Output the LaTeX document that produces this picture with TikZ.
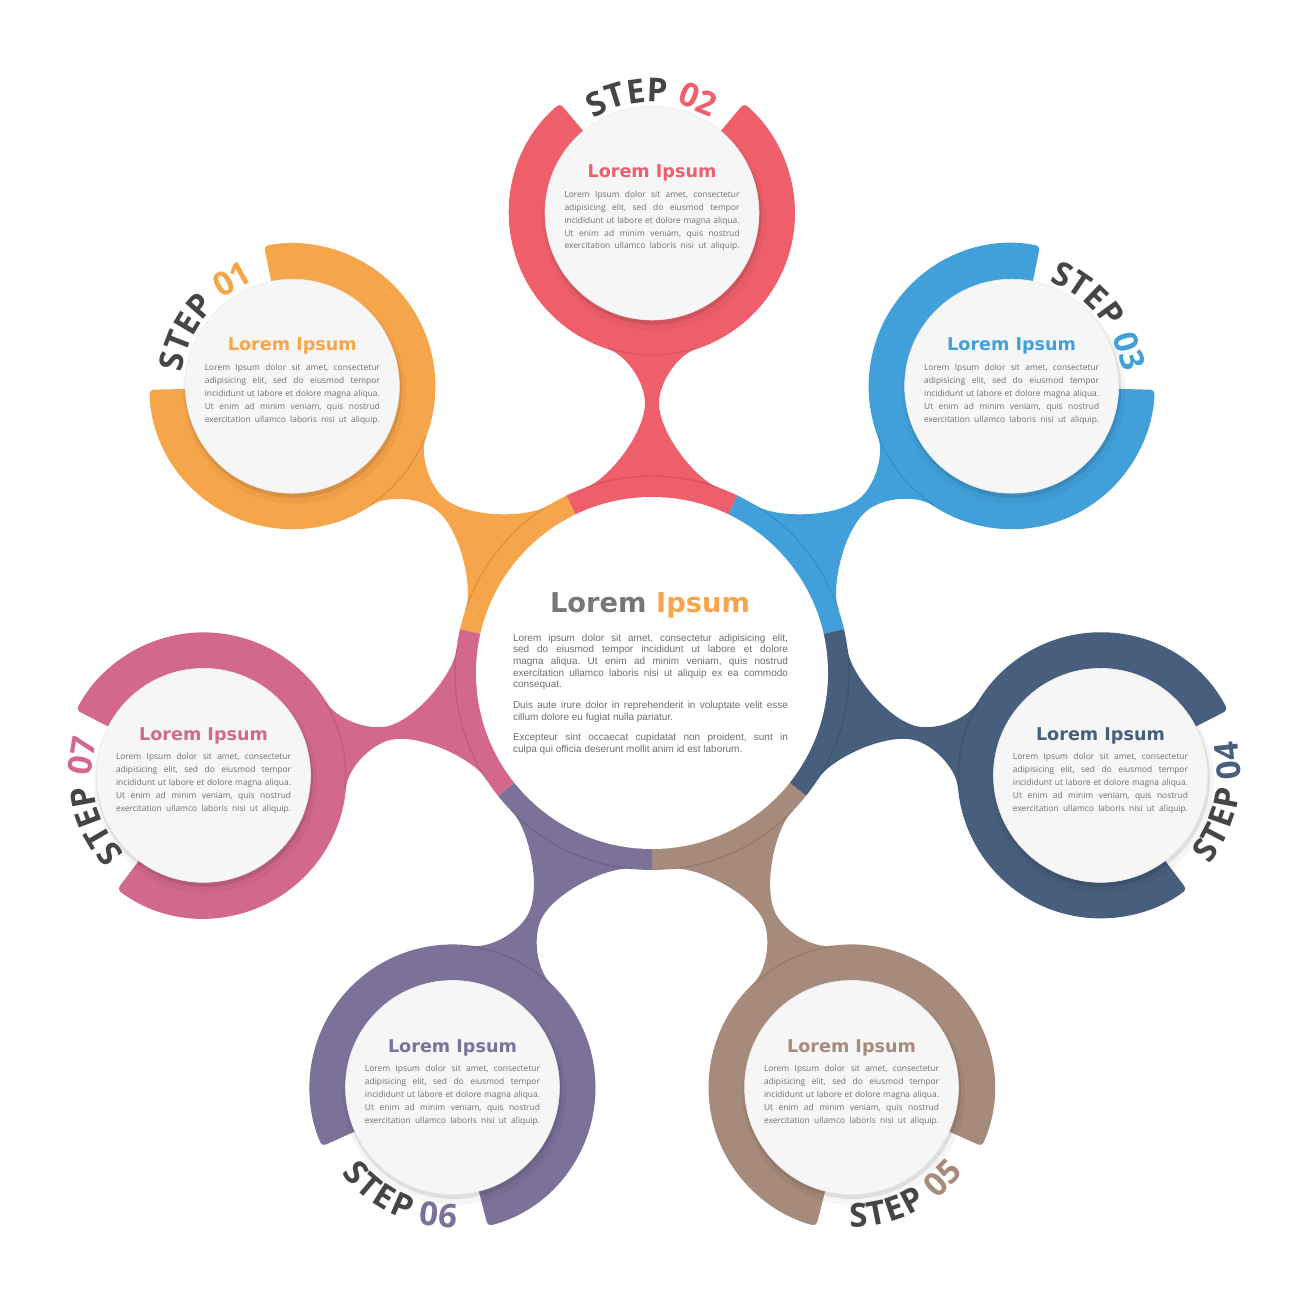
\documentclass[tikz,border=0pt]{standalone}
\usepackage{fontspec}
\usetikzlibrary{calc,decorations.text}
\newfontfamily\osans{Open Sans}
\newfontfamily\dvs{DejaVu Sans}
\newfontfamily\lsans{Liberation Sans}
\definecolor{sorange}{HTML}{F7A54A}
\definecolor{sred}{HTML}{EF5F6B}
\definecolor{sblue}{HTML}{41A0DA}
\definecolor{sdark}{HTML}{475E7C}
\definecolor{sbrown}{HTML}{A68A7B}
\definecolor{spurple}{HTML}{7B7199}
\definecolor{spink}{HTML}{D2698B}
\definecolor{stepgray}{HTML}{454545}
\definecolor{bodygray}{HTML}{6E6E6E}
\definecolor{titlegray}{HTML}{777777}
\definecolor{satwhite}{HTML}{F6F6F6}
\frenchspacing
\newcommand\stepfont{\osans\bfseries\fontsize{33}{35}\selectfont}
\newcommand\satbody{\parbox[t]{175pt}{\osans\fontsize{8.4}{12.85}\selectfont\frenchspacing
\makebox[\linewidth][s]{Lorem Ipsum dolor sit amet, consectetur}\\
\makebox[\linewidth][s]{adipisicing elit, sed do eiusmod tempor}\\
\makebox[\linewidth][s]{incididunt ut labore et dolore magna aliqua.}\\
\makebox[\linewidth][s]{Ut enim ad minim veniam, quis nostrud}\\
\makebox[\linewidth][s]{exercitation ullamco laboris nisi ut aliquip.}}}
\tikzset{
  sattitle/.style={font=\dvs\bfseries\fontsize{17.6}{20}\selectfont, inner sep=0, anchor=base},
  satbodynode/.style={inner sep=0, anchor=base, text=bodygray},
  edgeshade/.style={black, opacity=0.10, line width=1.4},
}
\begin{document}
\begin{tikzpicture}[x=1pt,y=1pt]
\useasboundingbox (0,0) rectangle (1300,-1300);
\fill[white] (0,0) rectangle (1300,-1300);
\coordinate (c0) at (652,-673);

% necks and central ring segments
\foreach \ang/\col in {141.43/sorange, 90/sred, 38.57/sblue, -12.86/sdark, -64.29/sbrown, -115.71/spurple, 192.86/spink}{
  \begin{scope}[shift={(c0)}, rotate=\ang]
    \fill[\col] (165,67) -- (185,67) .. controls (193.5,43.5) and (240,7) .. (270,7)
      .. controls (290,7) and (317.8,25) .. (324,44) -- (345,44) -- (345,-44) -- (324,-44)
      .. controls (317.8,-25) and (290,-7) .. (270,-7) .. controls (240,-7) and (193.5,-43.5) .. (185,-67)
      -- (165,-67) -- cycle;
    \fill[\col] (-25.72:197) arc[start angle=-25.72, end angle=25.72, radius=197]
      -- (25.72:165) arc[start angle=25.72, end angle=-25.72, radius=165] -- cycle;
    \draw[edgeshade] (-20:197) arc[start angle=-20, end angle=20, radius=197];
  \end{scope}
}

% central white disc
\fill[white] (c0) circle[radius=176];

% satellites
\foreach \ang/\col/\num/\rr/\da/\trk in {141.43/sorange/01/111/-60/0pt, 90/sred/02/111/-60/0pt, 38.57/sblue/03/111/-60/0pt,
    -12.86/sdark/04/140/60/1.6pt, -64.29/sbrown/05/140/60/1.6pt, -115.71/spurple/06/140/60/1.6pt, 192.86/spink/07/111/-60/0pt}{
  \coordinate (sat\num) at ($(c0)+(\ang:460)$);
  \begin{scope}[shift={(sat\num)}, rotate=\ang]
    \fill[\col, rounded corners=4pt] (40:143) arc[start angle=40, end angle=320, radius=143]
      -- (320:98) arc[start angle=320, end angle=40, radius=98] -- cycle;
    \draw[edgeshade] (162:142) arc[start angle=162, end angle=198, radius=142];
  \end{scope}
  \fill[black, opacity=0.04] ($(sat\num)+(2,-6)$) circle[radius=111.5];
  \fill[black, opacity=0.09] ($(sat\num)+(1,-3)$) circle[radius=108.5];
  \fill[satwhite] (sat\num) circle[radius=107];
  \draw[black!8, line width=0.6] (sat\num) circle[radius=107];
  \node (st\num) [sattitle, text=\col] at ($(sat\num)+(0,35.3)$) {Lorem Ipsum};
  \node (sb\num) [satbodynode] at ($(sat\num)+(0,15.5)$) {\satbody};
  \pgfmathsetmacro\sa{\ang-\da}
  \pgfmathsetmacro\ea{\ang+\da}
  \path[decorate, decoration={text along path, text align=center,
      text={|\stepfont\color{stepgray}\kern\trk|STEP |\stepfont\color{\col}\kern\trk|{\num}}}]
    (sat\num) ++(\sa:\rr) arc[start angle=\sa, end angle=\ea, radius=\rr];
}

% central text
\node (ctitle) [anchor=base, inner sep=0, font=\dvs\bfseries\fontsize{27.3}{30}\selectfont]
  at (650,-612) {\textcolor{titlegray}{Lorem} \textcolor{sorange}{Ipsum}};
\node (cbody) [anchor=base, inner sep=0, text=bodygray] at (650.5,-641) {\parbox[t]{275pt}{\lsans\fontsize{10}{11.7}\selectfont\frenchspacing\setlength{\parskip}{8.8pt}%
\makebox[\linewidth][s]{Lorem ipsum dolor sit amet, consectetur adipisicing elit,}\\
\makebox[\linewidth][s]{sed do eiusmod tempor incididunt ut labore et dolore}\\
\makebox[\linewidth][s]{magna aliqua. Ut enim ad minim veniam, quis nostrud}\\
\makebox[\linewidth][s]{exercitation ullamco laboris nisi ut aliquip ex ea commodo}\\
consequat.\par
\makebox[\linewidth][s]{Duis aute irure dolor in reprehenderit in voluptate velit esse}\\
cillum dolore eu fugiat nulla pariatur.\par
\makebox[\linewidth][s]{Excepteur sint occaecat cupidatat non proident, sunt in}\\
culpa qui officia deserunt mollit anim id est laborum.}};
\end{tikzpicture}
\end{document}
